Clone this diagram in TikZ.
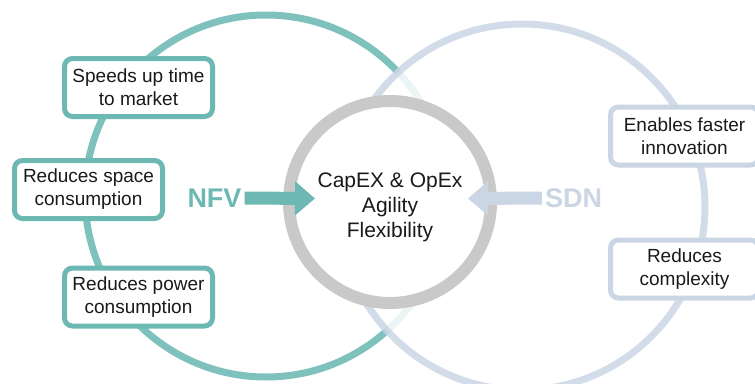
\documentclass[tikz,border=0pt]{standalone}
\usepackage{fontspec}
\setmainfont{Liberation Sans}
\usetikzlibrary{arrows.meta}
\definecolor{nfvteal}{HTML}{6DB8B2}
\definecolor{nfvring}{HTML}{7FC2BD}
\definecolor{sdnblue}{HTML}{CBD6E5}
\definecolor{hubgray}{HTML}{C9C9C9}
\definecolor{ink}{HTML}{1A1A1A}
\begin{document}
\begin{tikzpicture}[x=1pt, y=-1pt,
    benefit/.style={draw, fill=white, line width=5pt, rounded corners=8pt,
        minimum width=148pt, minimum height=58pt, align=center, text=ink,
        font=\fontsize{19}{23}\selectfont, inner sep=0pt},
    tech/.style={font=\bfseries\fontsize{27}{27}\selectfont, inner sep=0pt},
    fatarrow/.style={line width=13pt, -{Triangle[length=20pt, width=33pt]}}]
        \useasboundingbox (0,0) rectangle (755,383);
        % the two rings and the hub
        \draw[nfvring, line width=7pt] (266,196) circle (181);
        \draw[sdnblue, line width=7pt, draw opacity=0.85, fill=white, fill opacity=0.85] (522,207) circle (183);
        \draw[hubgray, line width=12pt, fill=white] (390,202) circle (101);
        \node[align=center, text=ink, font=\fontsize{21}{25}\selectfont] (hub) at (390,207)
            {CapEX \& OpEx\\Agility\\Flexibility};
        % NFV side
        \node[benefit, draw=nfvteal] (speed) at (138.5,87.5) {Speeds up time\\to market};
        \node[benefit, draw=nfvteal] (space) at (88.5,189.5) {Reduces space\\consumption};
        \node[benefit, draw=nfvteal] (power) at (138.5,297) {Reduces power\\consumption};
        \node[tech, text=nfvteal] (nfv) at (214.5,198) {NFV};
        \coordinate (nfvtip) at (315,198.5);
        \draw[fatarrow, nfvteal] ([xshift=3pt]nfv.east) -- (nfvtip);
        % SDN side
        \node[benefit, draw=sdnblue] (innov) at (684.5,136) {Enables faster\\innovation};
        \node[benefit, draw=sdnblue] (cmplx) at (684.5,269) {Reduces\\complexity};
        \node[tech, text=sdnblue] (sdn) at (573.5,198) {SDN};
        \coordinate (sdntip) at (468,198.5);
        \draw[fatarrow, sdnblue] ([xshift=-3pt]sdn.west) -- (sdntip);
    \end{tikzpicture}
\end{document}
